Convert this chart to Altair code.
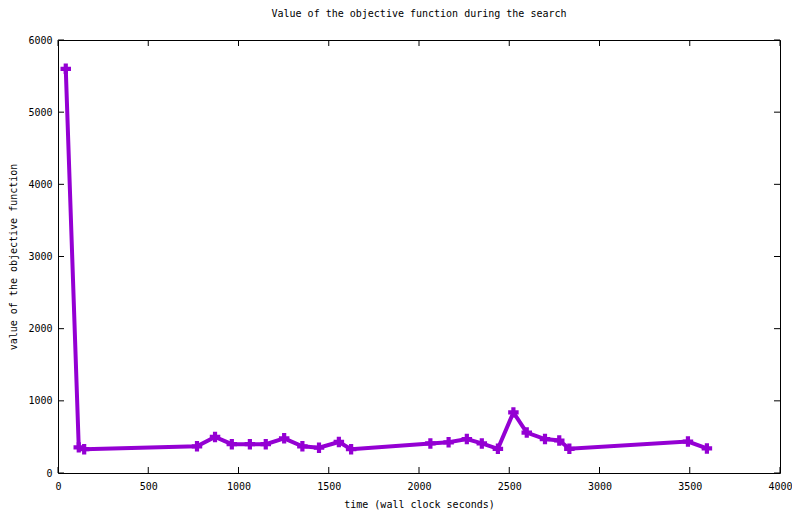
import altair as alt
import pandas as pd

# data
times = [43, 115, 145, 770, 870, 963, 1063, 1151, 1253, 1354, 1446, 1556, 1624,
         2063, 2164, 2265, 2348, 2437, 2523, 2597, 2698, 2777, 2833, 3490, 3595]
values = [5600, 355, 330, 370, 500, 400, 400, 400, 480, 370, 350, 430, 330,
          410, 425, 470, 410, 335, 840, 560, 470, 450, 335, 435, 340]
x_ticks = [0, 500, 1000, 1500, 2000, 2500, 3000, 3500, 4000]
y_ticks = [0, 1000, 2000, 3000, 4000, 5000, 6000]

W, H = 722, 433
FONT = "DejaVu Sans Mono"
COLOR = "#9400D3"

df = pd.DataFrame({"t": times, "v": values})
xt = pd.DataFrame({"tick": x_ticks})
yt = pd.DataFrame({"tick": y_ticks})

xscale = alt.Scale(domain=[0, 4000], nice=False, zero=False)
yscale = alt.Scale(domain=[0, 6000], nice=False, zero=False)

xaxis = alt.Axis(values=x_ticks, format="d", ticks=False, domain=False, grid=False,
                 labelFlush=False, labelOverlap=False,
                 labelPadding=8, labelFontSize=10, labelFont=FONT, labelColor="black",
                 title="time (wall clock seconds)", titleFont=FONT, titleFontSize=10,
                 titleFontWeight="normal", titleColor="black",
                 titleX=W / 2, titleY=31, titleBaseline="middle", titleAlign="center")
yaxis = alt.Axis(values=y_ticks, format="d", ticks=False, domain=False, grid=False,
                 labelFlush=False, labelOverlap=False,
                 labelPadding=6, labelFontSize=10, labelFont=FONT, labelColor="black",
                 title="value of the objective function", titleFont=FONT, titleFontSize=10,
                 titleFontWeight="normal", titleColor="black", titleAngle=-90,
                 titleX=-45, titleY=H / 2, titleBaseline="middle", titleAlign="center")

line = alt.Chart(df).mark_line(color=COLOR, strokeWidth=4).encode(
    x=alt.X("t:Q", scale=xscale, axis=xaxis),
    y=alt.Y("v:Q", scale=yscale, axis=yaxis),
)
points = alt.Chart(df).mark_point(shape="cross", filled=True, color=COLOR,
                                  size=110, opacity=1).encode(
    x=alt.X("t:Q", scale=xscale),
    y=alt.Y("v:Q", scale=yscale),
)

tick_style = dict(color="black", strokeWidth=1)
xb = alt.Chart(xt).mark_rule(**tick_style).encode(
    x=alt.X("tick:Q", scale=xscale), y=alt.value(H), y2=alt.value(H - 6))
xtop = alt.Chart(xt).mark_rule(**tick_style).encode(
    x=alt.X("tick:Q", scale=xscale), y=alt.value(0), y2=alt.value(6))
yl = alt.Chart(yt).mark_rule(**tick_style).encode(
    y=alt.Y("tick:Q", scale=yscale), x=alt.value(0), x2=alt.value(6))
yr = alt.Chart(yt).mark_rule(**tick_style).encode(
    y=alt.Y("tick:Q", scale=yscale), x=alt.value(W), x2=alt.value(W - 6))

chart = alt.layer(xb, xtop, yl, yr, line, points).properties(
    width=W, height=H,
    title=alt.TitleParams("Value of the objective function during the search",
                          font=FONT, fontSize=10, fontWeight="normal", color="black",
                          anchor="middle", offset=16),
    autosize=alt.AutoSizeParams(type="none"),
    padding={"left": 50, "top": 32, "right": 12, "bottom": 40},
    background="white",
).configure_view(stroke="black", strokeWidth=1)

chart.save("out.html", embed_options={"renderer": "svg", "actions": False})
